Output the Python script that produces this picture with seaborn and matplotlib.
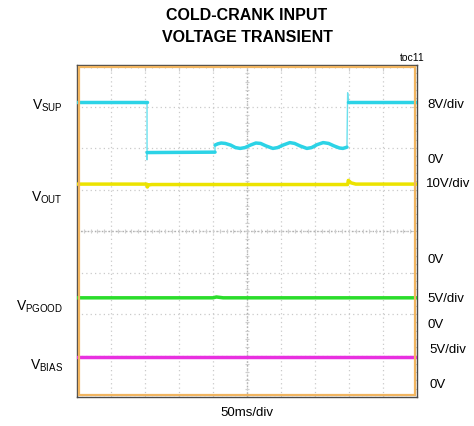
import numpy as np
import pandas as pd
import matplotlib
matplotlib.use("Agg")
import matplotlib.pyplot as plt
import seaborn as sns
from matplotlib.patches import Rectangle

sns.set_style("white")
plt.rcParams['font.family'] = ['Liberation Sans', 'DejaVu Sans']
plt.rcParams['mathtext.fontset'] = 'custom'
plt.rcParams['mathtext.rm'] = 'Liberation Sans'
plt.rcParams['mathtext.it'] = 'Liberation Sans'
plt.rcParams['text.color'] = 'black'

# ---------------- data (time in ms, level in screen divisions from bottom) ----
sup_hi1_t = [0, 103]
sup_hi1_v = [7.10, 7.10]
sup_lo_t = [103, 203]
sup_lo_v = [5.89, 5.90]
sup_wave_t = [203, 207, 212, 218, 226, 233, 240, 247, 255, 263, 270, 278, 288,
              295, 303, 313, 320, 328, 338, 345, 353, 362, 370, 378, 386, 391, 397]
sup_wave_v = [6.07, 6.10, 6.12, 6.11, 6.07, 6.01, 5.99, 6.01, 6.07, 6.12, 6.11,
              6.05, 5.99, 6.01, 6.07, 6.13, 6.11, 6.05, 5.99, 6.01, 6.08, 6.13,
              6.11, 6.05, 6.00, 5.99, 6.02]
sup_hi2_t = [399, 500]
sup_hi2_v = [7.10, 7.10]
sup_dip_v = 5.72     # undershoot at the drop
sup_spike_v = 7.33   # overshoot at the recovery

out_t = [0, 102.5, 103.5, 105, 110, 398, 399, 403, 410, 500]
out_v = [5.13, 5.13, 5.06, 5.11, 5.12, 5.12, 5.22, 5.16, 5.13, 5.13]

pgood_t = [0, 200, 205, 215, 500]
pgood_v = [2.39, 2.39, 2.41, 2.39, 2.39]

bias_t = [0, 500]
bias_v = [0.97, 0.97]

left_labels = [r'$\mathrm{V_{SUP}}$', r'$\mathrm{V_{OUT}}$',
               r'$\mathrm{V_{PGOOD}}$', r'$\mathrm{V_{BIAS}}$']
right_labels = ['8V/div', '0V', '10V/div', '0V', '5V/div', '0V', '5V/div', '0V']

CYAN = '#2CD3E6'
YELLOW = '#ECE300'
GREEN = '#2BDD2B'
MAGENTA = '#E830E0'

# ---------------- figure ----------------
W, H = 474, 426
fig = plt.figure(figsize=(W / 100, H / 100), dpi=100)
x0, x1, y0, y1 = 77, 417, 65, 397
ax = fig.add_axes([x0 / W, 1 - y1 / H, (x1 - x0) / W, (y1 - y0) / H])
ax.set_xlim(0, 500)
ax.set_ylim(0, 8)

# grid
ax.set_xticks(np.arange(0, 501, 50))
ax.set_yticks(np.arange(0, 9, 1))
ax.set_xticks(np.arange(0, 501, 10), minor=True)
ax.set_yticks(np.arange(0, 8.01, 0.2), minor=True)
ax.grid(True, which='major', color='#cacaca', linestyle=(0, (1, 2.5)), linewidth=0.9)
ax.tick_params(which='both', direction='in', top=True, right=True,
               labelbottom=False, labelleft=False, color='#cccccc')
ax.tick_params(which='major', length=4, width=0.8)
ax.tick_params(which='minor', length=2.5, width=0.8)

# center cross with minor marks
ax.axvline(250, color='#b0b0b0', linestyle=(0, (1, 1.5)), linewidth=1.0, zorder=1)
ax.axhline(4, color='#b0b0b0', linestyle=(0, (1, 1.5)), linewidth=1.0, zorder=1)
mt = np.arange(0, 501, 10)
ax.vlines(mt, 4 - 0.04, 4 + 0.04, color='#cfcfcf', linewidth=0.8, zorder=1)
my = np.arange(0, 8.01, 0.2)
ax.hlines(my, 250 - 3, 250 + 3, color='#cfcfcf', linewidth=0.8, zorder=1)

for s in ax.spines.values():
    s.set_color('#4a4a4a')
    s.set_linewidth(1.0)
ax.add_patch(Rectangle((0.005, 0.005), 0.99, 0.99, transform=ax.transAxes,
                       fill=False, ec='#F1B560', lw=1.6, zorder=5))

# traces
sup = pd.DataFrame({
    't': sup_hi1_t + sup_lo_t + sup_wave_t + sup_hi2_t,
    'v': sup_hi1_v + sup_lo_v + sup_wave_v + sup_hi2_v,
    'seg': [0] * len(sup_hi1_t) + [1] * len(sup_lo_t) + [2] * len(sup_wave_t) + [3] * len(sup_hi2_t),
})
sup_full = pd.DataFrame({
    't': sup_hi1_t + [103] + sup_lo_t + sup_wave_t + [398] + sup_hi2_t,
    'v': sup_hi1_v + [sup_dip_v] + sup_lo_v + sup_wave_v + [sup_spike_v] + sup_hi2_v,
})
LW = 2.5
sns.lineplot(data=sup_full, x='t', y='v', ax=ax, color=CYAN, linewidth=1.0,
             sort=False, estimator=None, zorder=3, alpha=0.7)
sns.lineplot(data=sup, x='t', y='v', units='seg', ax=ax, color=CYAN, linewidth=LW,
             sort=False, estimator=None, zorder=4)
sns.lineplot(x=out_t, y=out_v, ax=ax, color=YELLOW, linewidth=LW, sort=False,
             estimator=None, zorder=4)
sns.lineplot(x=pgood_t, y=pgood_v, ax=ax, color=GREEN, linewidth=LW, sort=False,
             estimator=None, zorder=4)
sns.lineplot(x=bias_t, y=bias_v, ax=ax, color=MAGENTA, linewidth=LW, sort=False,
             estimator=None, zorder=4)
ax.set_xlabel('')
ax.set_ylabel('')
ax.set_xlim(0, 500)
ax.set_ylim(0, 8)

# texts
def fx(px):
    return px / W

def fy(py):
    return 1 - py / H

fig.text(fx(247), fy(15), 'COLD-CRANK INPUT', ha='center', va='center',
         fontsize=11.5, fontweight='bold', color='black')
fig.text(fx(247), fy(38), 'VOLTAGE TRANSIENT', ha='center', va='center',
         fontsize=11.5, fontweight='bold', color='black')
fig.text(fx(425), fy(58), 'toc11', ha='right', va='center', fontsize=7.5, color='black')
fig.text(fx(247), fy(413), '50ms/div', ha='center', va='center', fontsize=9.5, color='black')

left_y = [106, 198, 307, 366]
for lab, yy in zip(left_labels, left_y):
    fig.text(fx(63), fy(yy), lab, ha='right', va='center', fontsize=10, color='black')

right_y = [105, 160, 184, 260, 299, 325, 350, 385]
right_x = [427, 427, 426, 427, 427, 428, 429, 430]
for lab, xx, yy in zip(right_labels, right_x, right_y):
    fig.text(fx(xx), fy(yy), lab, ha='left', va='center', fontsize=9.5, color='black')

fig.savefig('out.png', dpi=100)
